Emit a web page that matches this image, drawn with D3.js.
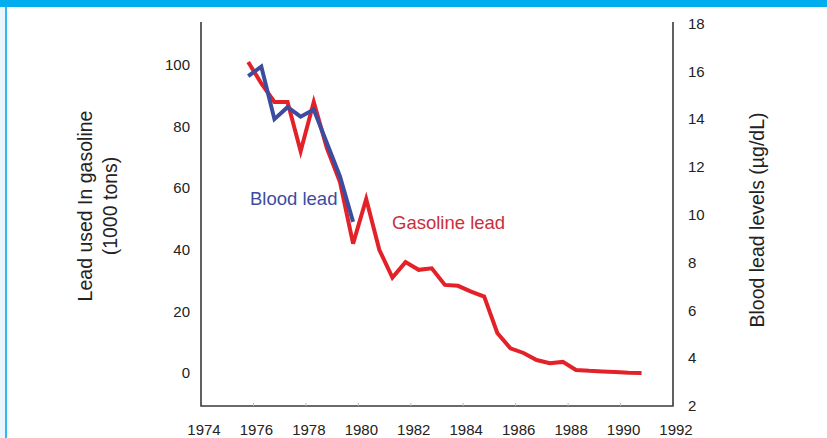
<!DOCTYPE html>
<html>
<head>
<meta charset="utf-8">
<script src="https://cdn.jsdelivr.net/npm/d3@7"></script>
<style>
  body { margin: 0; background: #fff; }
  svg { display: block; font-family: "Liberation Sans", Arial, sans-serif; }
</style>
</head>
<body>
<svg id="chart" width="827" height="438"></svg>
<script>
// Gasoline lead (1000 tons), left axis
const gasYears = [1975.8, 1976.3, 1976.8, 1977.3, 1977.8, 1978.3, 1978.8, 1979.3, 1979.8,
  1980.3, 1980.8, 1981.3, 1981.8, 1982.3, 1982.8, 1983.3, 1983.8, 1984.3, 1984.8,
  1985.3, 1985.8, 1986.3, 1986.8, 1987.3, 1987.8, 1988.3, 1988.8, 1989.3, 1989.8,
  1990.3, 1990.8];
const gasValues = [101, 94, 88, 88, 72, 88, 73, 62, 42,
  56.5, 40, 31, 36, 33.5, 34, 28.6, 28.3, 26.4, 24.8,
  13, 8, 6.5, 4.2, 3.2, 3.6, 1, 0.7, 0.5, 0.3,
  0.1, 0];

// Blood lead (µg/dL), right axis
const bloodYears = [1975.8, 1976.3, 1976.8, 1977.3, 1977.8, 1978.3, 1978.8, 1979.3, 1979.8];
const bloodValues = [15.8, 16.2, 14.0, 14.5, 14.1, 14.4, 13.0, 11.6, 9.7];

const yearTicks = [1974, 1976, 1978, 1980, 1982, 1984, 1986, 1988, 1990, 1992];
const leftTicks = [0, 20, 40, 60, 80, 100];
const rightTicks = [2, 4, 6, 8, 10, 12, 14, 16, 18];

const svg = d3.select("#chart");

// page frame
svg.append("rect").attr("x", 0).attr("y", 0).attr("width", 5).attr("height", 438).attr("fill", "#eaf6fd");
svg.append("rect").attr("x", 5).attr("y", 0).attr("width", 2).attr("height", 438).attr("fill", "#2db8ee");
svg.append("rect").attr("x", 0).attr("y", 0).attr("width", 827).attr("height", 7).attr("fill", "#00aeef");

const x = d3.scaleLinear().domain([1974, 1992]).range([201, 673]);
const yRight = d3.scaleLinear().domain([2, 18]).range([406, 23.5]);
// left axis: 0 at y=373, 100 at y=65
const yLeft = d3.scaleLinear().domain([0, 100]).range([373, 65]);

const axisColor = "#3a3a3a";
const tickFont = 15;

// axis frame (left, bottom, right)
svg.append("path")
  .attr("d", `M${x(1974)},22 V${yRight(2)} H${x(1992)} V22`)
  .attr("fill", "none")
  .attr("stroke", axisColor)
  .attr("stroke-width", 1.6);

// bottom ticks
svg.append("g").selectAll("line")
  .data(yearTicks.slice(1, -1))
  .enter().append("line")
  .attr("x1", d => x(d)).attr("x2", d => x(d))
  .attr("y1", yRight(2)).attr("y2", yRight(2) - 3)
  .attr("stroke", "#bbb").attr("stroke-width", 1);

svg.append("g").selectAll("text")
  .data(yearTicks)
  .enter().append("text")
  .attr("x", d => x(d) + 3)
  .attr("y", 435)
  .attr("text-anchor", "middle")
  .attr("font-size", tickFont)
  .attr("fill", "#222")
  .text(d => d);

svg.append("g").selectAll("text")
  .data(leftTicks)
  .enter().append("text")
  .attr("x", 190)
  .attr("y", d => yLeft(d))
  .attr("dy", "0.35em")
  .attr("text-anchor", "end")
  .attr("font-size", tickFont)
  .attr("fill", "#222")
  .text(d => d);

svg.append("g").selectAll("text")
  .data(rightTicks)
  .enter().append("text")
  .attr("x", 688)
  .attr("y", d => yRight(d))
  .attr("dy", "0.35em")
  .attr("text-anchor", "start")
  .attr("font-size", tickFont)
  .attr("fill", "#222")
  .text(d => d);

// axis titles
svg.append("text")
  .attr("transform", "translate(92,206) rotate(-90)")
  .attr("text-anchor", "middle")
  .attr("font-size", 19.5)
  .attr("fill", "#222")
  .text("Lead used In gasoline");
svg.append("text")
  .attr("transform", "translate(117,206) rotate(-90)")
  .attr("text-anchor", "middle")
  .attr("font-size", 19.5)
  .attr("fill", "#222")
  .text("(1000 tons)");
svg.append("text")
  .attr("transform", "translate(764,220) rotate(-90)")
  .attr("text-anchor", "middle")
  .attr("font-size", 19.5)
  .attr("fill", "#222")
  .text("Blood lead levels  (µg/dL)");

// lines
const gasLine = d3.line()
  .x((d, i) => x(gasYears[i]))
  .y(d => yLeft(d));
const bloodLine = d3.line()
  .x((d, i) => x(bloodYears[i]))
  .y(d => yRight(d));

svg.append("path")
  .datum(gasValues)
  .attr("d", gasLine)
  .attr("fill", "none")
  .attr("stroke", "#e32129")
  .attr("stroke-width", 4)
  .attr("stroke-linejoin", "miter");

svg.append("path")
  .datum(bloodValues)
  .attr("d", bloodLine)
  .attr("fill", "none")
  .attr("stroke", "#3c4ca0")
  .attr("stroke-width", 4)
  .attr("stroke-linejoin", "miter");

// series labels
svg.append("text")
  .attr("x", 250).attr("y", 205)
  .attr("font-size", 18.5)
  .attr("fill", "#3c4ca0")
  .text("Blood lead");
svg.append("text")
  .attr("x", 392).attr("y", 229)
  .attr("font-size", 18.5)
  .attr("fill", "#c8303a")
  .text("Gasoline lead");
</script>
</body>
</html>
